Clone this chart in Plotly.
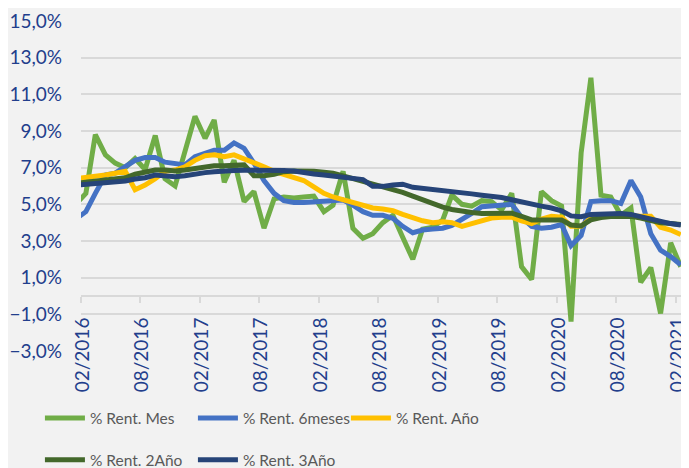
import pandas as pd
import plotly.graph_objects as go

# Monthly observations (mid-month), 01/2016 .. 02/2021
months = pd.date_range("2016-01-01", periods=62, freq="MS") + pd.Timedelta(days=15)

rent_mes = [5.0, 5.6, 8.8, 7.7, 7.25, 7.0, 7.5, 6.9, 8.75, 6.4, 6.0, 7.9, 9.8, 8.6, 9.6, 6.2,
            7.4, 5.15, 5.7, 3.7, 5.3, 5.4, 5.35, 5.4, 5.45, 4.6, 4.95, 6.8, 3.7, 3.15, 3.4, 4.0,
            4.4, 3.2, 2.0, 3.65, 3.75, 4.15, 5.5, 5.0, 4.9, 5.2, 5.15, 4.7, 5.6, 1.6, 0.9, 5.7,
            5.2, 4.9, -1.4, 7.8, 11.9, 5.5, 5.4, 4.4, 4.8, 0.75, 1.55, -0.95, 2.9, 1.6]

rent_6m = [4.2, 4.6, 5.6, 6.6, 6.7, 7.05, 7.4, 7.55, 7.55, 7.3, 7.2, 7.15, 7.6, 7.8, 7.95, 7.95,
           8.35, 8.05, 7.25, 6.3, 5.6, 5.2, 5.1, 5.1, 5.15, 5.15, 5.2, 5.24, 4.96, 4.6, 4.4, 4.4,
           4.24, 3.8, 3.45, 3.6, 3.65, 3.7, 3.85, 4.15, 4.5, 4.87, 4.9, 4.95, 5.0, 4.3, 3.8, 3.7,
           3.75, 3.9, 2.75, 3.3, 5.15, 5.2, 5.2, 5.05, 6.3, 5.4, 3.4, 2.5, 2.15, 1.7]

rent_ano = [6.4, 6.45, 6.55, 6.6, 6.7, 6.8, 5.8, 6.05, 6.4, 6.8, 6.87, 7.05, 7.4, 7.65, 7.7, 7.6,
            7.7, 7.5, 7.3, 7.05, 6.8, 6.65, 6.5, 6.3, 5.95, 5.6, 5.4, 5.25, 5.05, 4.9, 4.8, 4.75,
            4.65, 4.45, 4.25, 4.1, 4.0, 4.05, 4.0, 3.8, 3.95, 4.1, 4.25, 4.3, 4.3, 4.1, 3.95, 4.2,
            4.35, 4.3, 3.8, 3.8, 4.25, 4.35, 4.35, 4.35, 4.35, 4.35, 4.35, 3.75, 3.6, 3.35]

rent_2ano = [6.15, 6.2, 6.27, 6.33, 6.38, 6.45, 6.64, 6.78, 6.87, 6.87, 6.82, 6.87, 6.96, 7.05,
             7.1, 7.1, 7.15, 7.15, 6.56, 6.56, 6.64, 6.78, 6.82, 6.83, 6.8, 6.75, 6.7, 6.55, 6.4,
             6.25, 6.1, 5.95, 5.85, 5.65, 5.45, 5.25, 5.0, 4.85, 4.72, 4.62, 4.55, 4.5, 4.5, 4.5,
             4.52, 4.35, 4.15, 4.15, 4.15, 4.15, 3.87, 3.82, 4.15, 4.28, 4.33, 4.35, 4.35, 4.25,
             4.1, 4.0, 3.95, 3.9]

rent_3ano = [6.05, 6.1, 6.13, 6.16, 6.2, 6.27, 6.38, 6.45, 6.6, 6.56, 6.5, 6.56, 6.67, 6.73,
             6.78, 6.84, 6.84, 6.86, 6.87, 6.86, 6.84, 6.84, 6.82, 6.72, 6.65, 6.6, 6.55, 6.5,
             6.45, 6.35, 5.98, 5.98, 6.05, 6.1, 5.93, 5.88, 5.82, 5.78, 5.72, 5.63, 5.57, 5.5,
             5.45, 5.37, 5.25, 5.12, 4.97, 4.9, 4.8, 4.65, 4.37, 4.33, 4.45, 4.48, 4.5, 4.5, 4.45,
             4.32, 4.18, 4.03, 3.95, 3.87]

series_names = ["% Rent. Mes", "% Rent. 6meses", "% Rent. Año", "% Rent. 2Año", "% Rent. 3Año"]
series_values = [rent_mes, rent_6m, rent_ano, rent_2ano, rent_3ano]
series_colors = ["#70AD47", "#4472C4", "#FFC000", "#43682B", "#264478"]
series_legend = ["legend", "legend", "legend", "legend2", "legend2"]

FONT = "Lato"
LABEL_COLOR = "#223E8C"
GRID = "#D9D9D9"
BG = "#F2F2F2"

fig = go.Figure()
for name, vals, col, lg in zip(series_names, series_values, series_colors, series_legend):
    fig.add_trace(go.Scatter(
        x=months, y=vals, mode="lines", name=name, legend=lg,
        line=dict(color=col, width=5, shape="linear"),
        hoverinfo="skip",
    ))

Y_MIN, Y_MAX = -3, 15

legend_common = dict(
    orientation="h", xanchor="left", yanchor="middle",
    entrywidth=98, entrywidthmode="pixels", bgcolor="rgba(0,0,0,0)",
    font=dict(family=FONT, size=15.5, color="#595959"), itemwidth=40,
    traceorder="normal",
)

fig.update_layout(
    width=689, height=468,
    margin=dict(l=73, r=12, t=13, b=125, autoexpand=False),
    paper_bgcolor=BG, plot_bgcolor=BG,
    separators=",.",
    font=dict(family=FONT, size=18, color=LABEL_COLOR),
    showlegend=True,
    legend=dict(x=-0.068, y=-0.204, **legend_common),
    legend2=dict(x=-0.068, y=-0.331, **legend_common),
)

fig.update_yaxes(
    range=[Y_MIN, Y_MAX], tick0=-3, dtick=2, tickformat=".1f", ticksuffix="%",
    showgrid=True, gridcolor=GRID, gridwidth=1.8, zeroline=False, showline=False,
    ticks="", ticklabelstandoff=18, automargin=False,
    tickfont=dict(family=FONT, size=19, color=LABEL_COLOR),
    layer="below traces",
)

fig.update_xaxes(
    type="date", range=["2016-02-01", "2021-03-01"],
    tick0="2016-02-01", dtick="M6", tickformat="%m/%Y", tickangle=-90,
    anchor="free", position=(0 - Y_MIN) / (Y_MAX - Y_MIN),
    showgrid=False, zeroline=False, showline=True, linecolor=GRID, linewidth=2,
    ticks="outside", ticklen=6, tickwidth=2, tickcolor=GRID,
    ticklabelshift=2, ticklabelstandoff=7, ticklabeloverflow="allow",
    automargin=False,
    tickfont=dict(family=FONT, size=19, color=LABEL_COLOR),
    layer="below traces",
)

fig.write_html("out.html")
